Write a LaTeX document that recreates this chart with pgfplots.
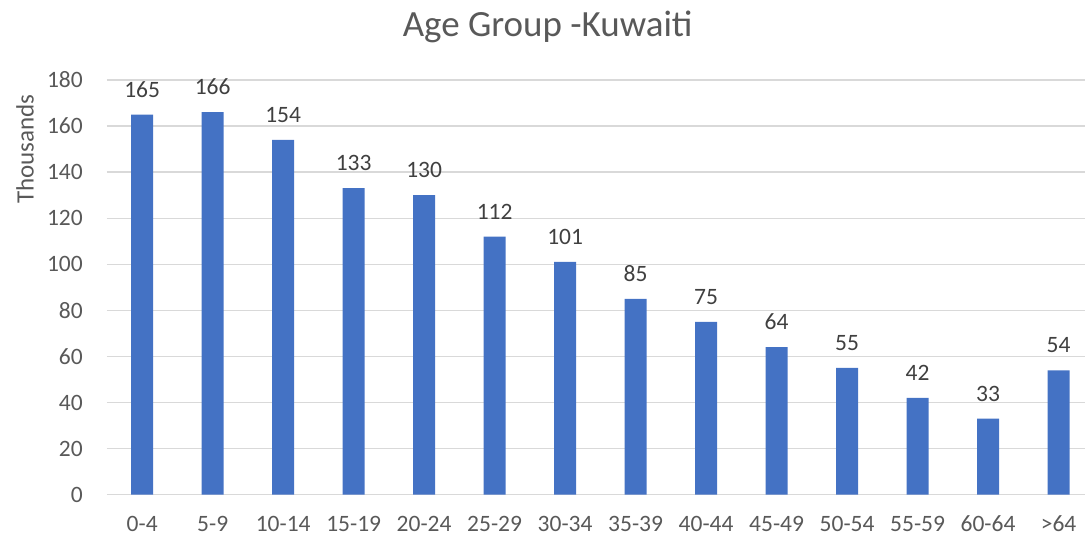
\documentclass[border=0pt]{standalone}
\usepackage{pgfplots}
\pgfplotsset{compat=1.18}
\usepackage{fontspec}
\setmainfont{Carlito}
\definecolor{barblue}{HTML}{4472C4}
\definecolor{gridgray}{HTML}{D9D9D9}
\definecolor{txtgray}{HTML}{595959}
\definecolor{lblgray}{HTML}{404040}
\begin{document}
\begin{tikzpicture}
\begin{axis}[
  name=ax,
  scale only axis,
  width=979pt, height=415pt,
  xmin=-0.5, xmax=13.38,
  ymin=0, ymax=180,
  ytick={0,20,...,180},
  xtick={0,...,13},
  xticklabels={0-4,5-9,10-14,15-19,20-24,25-29,30-34,35-39,40-44,45-49,50-54,55-59,60-64,>64},
  ymajorgrids,
  major grid style={draw=gridgray, line width=1.3pt},
  axis line style={draw=none},
  major tick length=0pt,
  tick style={draw=none},
  /pgf/number format/assume math mode=true,
  ticklabel style={font=\fontsize{23.5}{26}\selectfont, text=txtgray, inner sep=0pt},
  xticklabel style={anchor=north, yshift=-21pt, text depth=0pt},
  yticklabel style={anchor=east, xshift=-24pt},
  ybar, bar width=22pt,
  clip=false,
  nodes near coords,
  every node near coord/.append style={font=\fontsize{23.5}{26}\selectfont, text=lblgray, inner sep=0pt, anchor=south, yshift=17pt},
]
\addplot[fill=barblue, draw=none] coordinates {
(0,165) (1,166) (2,154) (3,133) (4,130) (5,112) (6,101) (7,85) (8,75) (9,64) (10,55) (11,42) (12,33) (13,54)
};
\end{axis}
\useasboundingbox ([xshift=-107pt,yshift=-42pt]ax.south west) rectangle ([yshift=80pt]ax.north east);
\node[font=\fontsize{37}{42}\selectfont, text=txtgray] at ([xshift=441pt,yshift=468pt]ax.south west) {Age Group -Kuwaiti};
\node[font=\fontsize{25}{28}\selectfont, text=txtgray, rotate=90] at ([xshift=-82pt,yshift=346pt]ax.south west) {Thousands};
\end{tikzpicture}
\end{document}
